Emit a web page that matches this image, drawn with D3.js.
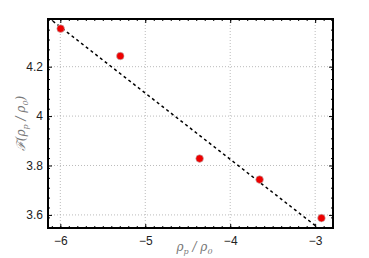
<!DOCTYPE html>
<html>
<head>
<meta charset="utf-8">
<script src="https://cdn.jsdelivr.net/npm/d3@7"></script>
<style>
  body { margin: 0; background: #fff; }
  svg text { font-family: "Liberation Sans", Arial, sans-serif; }
</style>
</head>
<body>
<div id="chart"></div>
<script>
// data
const ratio = [-5.996, -5.294, -4.36, -3.654, -2.926];
const fValue = [4.354, 4.243, 3.828, 3.743, 3.587];
const fitIntercept = 2.753, fitSlope = -0.268;
const xTicks = [-6, -5, -4, -3];
const yTicks = [3.6, 3.8, 4, 4.2];

const width = 369, height = 258;
const margin = {top: 19, right: 36, bottom: 30, left: 48};

const svg = d3.select("#chart")
  .append("svg")
  .attr("width", width)
  .attr("height", height);

const x = d3.scaleLinear()
  .domain([-6.145, -2.79])
  .range([margin.left, width - margin.right]);

const y = d3.scaleLinear()
  .domain([3.547, 4.393])
  .range([height - margin.bottom, margin.top]);

const fmt = d => String(d).replace("-", "\u2212");

svg.append("clipPath").attr("id", "clip")
  .append("rect")
  .attr("x", margin.left).attr("y", margin.top)
  .attr("width", x.range()[1] - x.range()[0])
  .attr("height", y.range()[0] - y.range()[1]);

// grid
const grid = svg.append("g")
  .attr("stroke", "#aaa")
  .attr("stroke-width", 0.8)
  .attr("stroke-dasharray", "1,2");
grid.selectAll(".gx").data(xTicks).join("line")
  .attr("x1", d => x(d)).attr("x2", d => x(d))
  .attr("y1", y.range()[1]).attr("y2", y.range()[0]);
grid.selectAll(".gy").data(yTicks).join("line")
  .attr("y1", d => y(d)).attr("y2", d => y(d))
  .attr("x1", x.range()[0]).attr("x2", x.range()[1]);

// minor + major ticks, inside, on all four sides
const xMinor = d3.range(-61, -27).map(i => i / 10);
const yMinor = d3.range(355, 440, 4).map(i => i / 100);

svg.append("g")
  .attr("transform", `translate(0,${y.range()[0]})`)
  .call(d3.axisBottom(x).tickValues(xMinor).tickSize(-2).tickFormat(""))
  .call(g => g.select(".domain").remove());
svg.append("g")
  .attr("transform", `translate(0,${y.range()[1]})`)
  .call(d3.axisTop(x).tickValues(xMinor).tickSize(-2).tickFormat(""))
  .call(g => g.select(".domain").remove());
svg.append("g")
  .attr("transform", `translate(${x.range()[0]},0)`)
  .call(d3.axisLeft(y).tickValues(yMinor).tickSize(-2).tickFormat(""))
  .call(g => g.select(".domain").remove());
svg.append("g")
  .attr("transform", `translate(${x.range()[1]},0)`)
  .call(d3.axisRight(y).tickValues(yMinor).tickSize(-2).tickFormat(""))
  .call(g => g.select(".domain").remove());

const xAxis = svg.append("g")
  .attr("transform", `translate(0,${y.range()[0]})`)
  .call(d3.axisBottom(x).tickValues(xTicks).tickSize(-4).tickPadding(8).tickFormat(fmt));
xAxis.select(".domain").remove();
xAxis.selectAll("text").attr("font-size", 12).attr("fill", "#222");

const yAxis = svg.append("g")
  .attr("transform", `translate(${x.range()[0]},0)`)
  .call(d3.axisLeft(y).tickValues(yTicks).tickSize(-4).tickPadding(5).tickFormat(fmt));
yAxis.select(".domain").remove();
yAxis.selectAll("text").attr("font-size", 12).attr("fill", "#222");

svg.append("g")
  .attr("transform", `translate(${x.range()[1]},0)`)
  .call(d3.axisRight(y).tickValues(yTicks).tickSize(-4).tickFormat(""))
  .call(g => g.select(".domain").remove());
svg.append("g")
  .attr("transform", `translate(0,${y.range()[1]})`)
  .call(d3.axisTop(x).tickValues(xTicks).tickSize(-4).tickFormat(""))
  .call(g => g.select(".domain").remove());

// fit line
const xd = x.domain();
svg.append("line")
  .attr("clip-path", "url(#clip)")
  .attr("x1", x(xd[0])).attr("y1", y(fitIntercept + fitSlope * xd[0]))
  .attr("x2", x(xd[1])).attr("y2", y(fitIntercept + fitSlope * xd[1]))
  .attr("stroke", "#000")
  .attr("stroke-width", 1.5)
  .attr("stroke-dasharray", "3,3");

// points
svg.append("g")
  .selectAll("circle")
  .data(ratio)
  .join("circle")
  .attr("cx", d => x(d))
  .attr("cy", (d, i) => y(fValue[i]))
  .attr("r", 3.8)
  .attr("fill", "#ee0000")
  .attr("stroke", "#bbb")
  .attr("stroke-width", 0.6);

// frame
svg.append("rect")
  .attr("x", margin.left).attr("y", margin.top)
  .attr("width", x.range()[1] - x.range()[0])
  .attr("height", y.range()[0] - y.range()[1])
  .attr("fill", "none")
  .attr("stroke", "#000")
  .attr("stroke-width", 2);

// axis labels
const xl = svg.append("text")
  .attr("x", (x.range()[0] + x.range()[1]) / 2 + 4)
  .attr("y", 251)
  .attr("text-anchor", "middle")
  .attr("fill", "#777")
  .style("font-family", "'DejaVu Serif', serif")
  .style("font-style", "italic")
  .attr("font-size", 12);
xl.append("tspan").text("ρ");
xl.append("tspan").attr("font-size", 8).attr("dy", 3).text("p");
xl.append("tspan").attr("dy", -3).text(" / ρ");
xl.append("tspan").attr("font-size", 8).attr("dy", 3).text("0");

const yl = svg.append("text")
  .attr("transform", `translate(25,${(y.range()[0] + y.range()[1]) / 2}) rotate(-90)`)
  .attr("text-anchor", "middle")
  .attr("fill", "#777")
  .style("font-family", "'DejaVu Serif', serif")
  .style("font-style", "italic")
  .attr("font-size", 12);
yl.append("tspan").text("ℱ(ρ");
yl.append("tspan").attr("font-size", 8).attr("dy", 3).text("p");
yl.append("tspan").attr("dy", -3).text(" / ρ");
yl.append("tspan").attr("font-size", 8).attr("dy", 3).text("0");
yl.append("tspan").attr("dy", -3).text(")");
</script>
</body>
</html>
